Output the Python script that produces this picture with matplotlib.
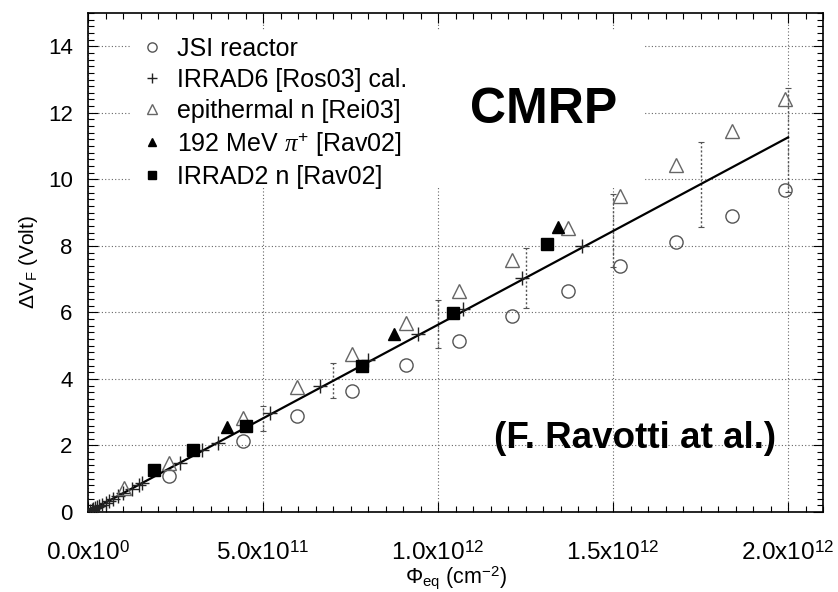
import matplotlib
matplotlib.use("Agg")
from matplotlib import pyplot as plt
from matplotlib.patches import Rectangle
from matplotlib.ticker import MultipleLocator

# data (fluence in cm^-2, forward voltage shift in V)
jsi_x = [2.3e11, 4.43e11, 5.97e11, 7.54e11, 9.08e11, 1.06e12, 1.21e12, 1.371e12, 1.52e12, 1.68e12, 1.84e12, 1.99e12]
jsi_y = [1.09, 2.13, 2.88, 3.63, 4.41, 5.13, 5.88, 6.63, 7.38, 8.13, 8.91, 9.69]

irrad6_x = [5e9, 1e10, 1.5e10, 2e10, 2.5e10, 3e10, 4e10, 5e10, 6e10, 7e10, 8.5e10, 1.0e11, 1.25e11, 1.45e11,
            1.55e11, 2.63e11, 3.26e11, 3.7e11, 5.2e11, 6.63e11, 8.0e11, 9.43e11, 1.07e12, 1.24e12, 1.41e12]
irrad6_y = [0.03, 0.06, 0.08, 0.11, 0.14, 0.17, 0.22, 0.28, 0.34, 0.40, 0.48, 0.57, 0.70, 0.82,
            0.88, 1.47, 1.86, 2.07, 2.97, 3.79, 4.58, 5.34, 6.09, 7.03, 8.01]

epi_x = [1.03e11, 2.3e11, 4.43e11, 5.97e11, 7.54e11, 9.08e11, 1.06e12, 1.21e12, 1.371e12, 1.52e12, 1.68e12, 1.84e12, 1.99e12]
epi_y = [0.73, 1.48, 2.82, 3.75, 4.74, 5.67, 6.63, 7.59, 8.55, 9.51, 10.44, 11.46, 12.42]

pion_x = [3.97e11, 8.75e11, 1.343e12]
pion_y = [2.55, 5.36, 8.58]

irrad2_x = [1.89e11, 3.0e11, 4.51e11, 7.83e11, 1.043e12, 1.311e12]
irrad2_y = [1.26, 1.86, 2.58, 4.38, 5.97, 8.07]

fit_x = [0.0, 2.0e12]
fit_y = [0.0, 11.26]

err_x = [5e11, 7e11, 1e12, 1.25e12, 1.5e12, 1.75e12, 2e12]
err_lo = [2.42, 3.42, 4.92, 6.12, 7.35, 8.58, 9.62]
err_hi = [3.18, 4.47, 6.36, 7.95, 9.57, 11.13, 12.75]

xtick_pos = [0, 5e11, 1e12, 1.5e12, 2e12]
xtick_labels = ['0.0x10$^{0}$', '5.0x10$^{11}$', '1.0x10$^{12}$', '1.5x10$^{12}$', '2.0x10$^{12}$']
ytick_pos = [0, 2, 4, 6, 8, 10, 12, 14]

legend_labels = ['JSI reactor', 'IRRAD6 [Ros03] cal.', 'epithermal n [Rei03]',
                 r'192 MeV $\pi^{+}$ [Rav02]', 'IRRAD2 n [Rav02]']

plt.rcParams['font.family'] = ['Liberation Sans', 'DejaVu Sans']
plt.rcParams['mathtext.fontset'] = 'custom'
plt.rcParams['mathtext.rm'] = 'Liberation Sans'
plt.rcParams['mathtext.sf'] = 'Liberation Sans'
plt.rcParams['mathtext.it'] = 'Liberation Serif:italic'

fig = plt.figure(figsize=(8.38, 5.92), dpi=100)
ax = fig.add_axes([88 / 838, 80 / 592, 735 / 838, 499 / 592])

ax.set_xlim(0, 2.1e12)
ax.set_ylim(0, 15)
ax.set_axisbelow(True)
ax.grid(True, which='major', color='#666666', linestyle=(0, (1, 2)), linewidth=0.8)

ax.set_xticks(xtick_pos)
ax.set_xticklabels(xtick_labels)
ax.set_yticks(ytick_pos)
ax.xaxis.set_minor_locator(MultipleLocator(5e10))
ax.yaxis.set_minor_locator(MultipleLocator(0.2))
ax.tick_params(which='both', direction='in', top=True, right=True, width=0.8)
ax.tick_params(which='major', length=7)
ax.tick_params(which='minor', length=4)
ax.tick_params(axis='x', which='major', labelsize=17.5, pad=21)
ax.tick_params(axis='y', which='major', labelsize=16, pad=11)
for spine in ax.spines.values():
    spine.set_linewidth(1.2)

# white box behind legend and title text (hides grid there)
ax.add_patch(Rectangle((0.057, 0.649), 0.698, 0.317, transform=ax.transAxes,
                       facecolor='white', edgecolor='none', zorder=1))

eb = ax.errorbar(err_x, [(lo + hi) / 2 for lo, hi in zip(err_lo, err_hi)],
                 yerr=[[(hi - lo) / 2 for lo, hi in zip(err_lo, err_hi)]] * 2,
                 fmt='none', ecolor='#555555', elinewidth=1.0, capsize=2.5, capthick=0.8, zorder=2)
eb[2][0].set_linestyle((0, (1.5, 1.5)))

ax.plot(fit_x, fit_y, color='black', linewidth=1.6, zorder=3)

h_jsi, = ax.plot(jsi_x, jsi_y, linestyle='none', marker='o', markersize=9.5, markerfacecolor='none',
                 markeredgecolor='#555555', markeredgewidth=1.0, zorder=4)
h_ir6, = ax.plot(irrad6_x, irrad6_y, linestyle='none', marker='+', markersize=10, color='#222222',
                 markeredgewidth=1.0, zorder=4)
h_epi, = ax.plot(epi_x, epi_y, linestyle='none', marker='^', markersize=9.5, markerfacecolor='none',
                 markeredgecolor='#666666', markeredgewidth=1.0, zorder=4)
h_pi, = ax.plot(pion_x, pion_y, linestyle='none', marker='^', markersize=9, color='black', zorder=5)
h_ir2, = ax.plot(irrad2_x, irrad2_y, linestyle='none', marker='s', markersize=9, color='black', zorder=5)

leg = ax.legend([h_jsi, h_ir6, h_epi, h_pi, h_ir2], legend_labels, loc='upper left',
                bbox_to_anchor=(0.07, 0.952), frameon=False, fontsize=18, markerscale=0.7,
                handlelength=1.0, handletextpad=0.5, labelspacing=0.28, borderpad=0, borderaxespad=0)
leg.set_zorder(6)

ax.set_xlabel(r'$\Phi_{\mathrm{eq}}$ (cm$^{-2}$)', fontsize=15.5, va='bottom')
ax.xaxis.set_label_coords(0.5, -0.158)
ax.set_ylabel(r'$\Delta$V$_{\mathrm{F}}$ (Volt)', fontsize=15, labelpad=6)

ax.text(0.62, 0.805, 'CMRP', transform=ax.transAxes, fontsize=36, fontweight='bold',
        ha='center', va='center', zorder=7)
ax.text(0.744, 0.148, '(F. Ravotti at al.)', transform=ax.transAxes, fontsize=26.5, fontweight='bold',
        ha='center', va='center', zorder=7)

fig.savefig('out.png', dpi=100)
plt.close(fig)
